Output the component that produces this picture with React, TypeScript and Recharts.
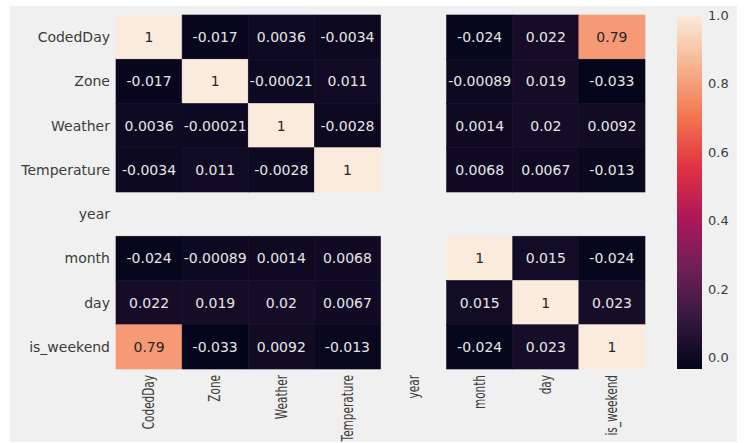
import React from "react";
import {
  ScatterChart,
  Scatter,
  XAxis,
  YAxis,
  ComposedChart,
  ReferenceArea,
} from "recharts";

const labels = ["CodedDay", "Zone", "Weather", "Temperature", "year", "month", "day", "is_weekend"];

// one row per variable, null = NaN (year is constant)
const codedDay = [1, -0.017, 0.0036, -0.0034, null, -0.024, 0.022, 0.79];
const zone = [-0.017, 1, -0.00021, 0.011, null, -0.00089, 0.019, -0.033];
const weather = [0.0036, -0.00021, 1, -0.0028, null, 0.0014, 0.02, 0.0092];
const temperature = [-0.0034, 0.011, -0.0028, 1, null, 0.0068, 0.0067, -0.013];
const year = [null, null, null, null, null, null, null, null];
const month = [-0.024, -0.00089, 0.0014, 0.0068, null, 1, 0.015, -0.024];
const day = [0.022, 0.019, 0.02, 0.0067, null, 0.015, 1, 0.023];
const isWeekend = [0.79, -0.033, 0.0092, -0.013, null, -0.024, 0.023, 1];

const rows = [codedDay, zone, weather, temperature, year, month, day, isWeekend];

const cbarTicks = [0, 0.2, 0.4, 0.6, 0.8, 1.0];

const vmin = -0.033;
const vmax = 1;

// rocket colormap anchors
const rocket: [number, string][] = [
  [0, "#03051a"],
  [1 / 7, "#35193e"],
  [2 / 7, "#701f57"],
  [3 / 7, "#ad1759"],
  [4 / 7, "#e13342"],
  [5 / 7, "#f37651"],
  [6 / 7, "#f6b48f"],
  [1, "#faebdd"],
];

function hex(c: string) {
  return [1, 3, 5].map((i) => parseInt(c.slice(i, i + 2), 16));
}

function rocketColor(v: number) {
  const t = Math.max(0, Math.min(1, (v - vmin) / (vmax - vmin)));
  for (let i = 1; i < rocket.length; i++) {
    const [p1, c1] = rocket[i];
    const [p0, c0] = rocket[i - 1];
    if (t <= p1) {
      const f = (t - p0) / (p1 - p0);
      const a = hex(c0);
      const b = hex(c1);
      const m = a.map((x, k) => Math.round(x + (b[k] - x) * f));
      return `rgb(${m[0]},${m[1]},${m[2]})`;
    }
  }
  return rocket[rocket.length - 1][1];
}

const W = 745;
const H = 443;
const LEFT = 116;
const RIGHT = 100;
const TOP = 15;
const BOTTOM = 74;
const cellW = (W - LEFT - RIGHT) / labels.length;
const cellH = (H - TOP - BOTTOM) / labels.length;

const cells = rows.flatMap((row, r) =>
  row
    .map((v, c) => ({ x: c + 0.5, y: r + 0.5, v }))
    .filter((d) => d.v !== null)
);

const font = "'DejaVu Sans', sans-serif";

const HeatCell = (props: any) => {
  const { cx, cy, payload } = props;
  const v = payload.v as number;
  const light = (v - vmin) / (vmax - vmin) > 0.6;
  const color = rocketColor(v);
  return (
    <g>
      <rect
        x={cx - cellW / 2}
        y={cy - cellH / 2}
        width={cellW}
        height={cellH}
        fill={color}
        stroke={color}
        strokeWidth={0.6}
      />
      <text
        x={cx}
        y={cy}
        textAnchor="middle"
        dominantBaseline="central"
        fontSize={14}
        fontFamily={font}
        fill={light ? "#262626" : "#e6e6e6"}
      >
        {Number(v.toPrecision(2)).toString()}
      </text>
    </g>
  );
};

const YTick = (props: any) => {
  const { x, y, payload } = props;
  return (
    <text x={x} y={y} textAnchor="end" dominantBaseline="central" fontSize={14} fontFamily={font} fill="#3c3c3c">
      {labels[Math.floor(payload.value)]}
    </text>
  );
};

// x labels in the reference are squeezed along the text direction
const XTick = (props: any) => {
  const { x, y, payload } = props;
  return (
    <text
      x={0}
      y={0}
      transform={`translate(${x} ${y - 2}) rotate(-90) scale(0.7 1)`}
      textAnchor="end"
      dominantBaseline="central"
      fontSize={15}
      fontFamily={font}
      fill="#3c3c3c"
    >
      {labels[Math.floor(payload.value)]}
    </text>
  );
};

const centers = labels.map((_, i) => i + 0.5);
const cbarData = [
  { x: 0, y: vmin },
  { x: 1, y: vmax },
];

export default function App() {
  return (
    <div style={{ position: "absolute", left: 0, top: 0, width: W, height: H, background: "#fff" }}>
      <div style={{ position: "absolute", left: 10, top: 6, width: 727, height: 436, background: "#f0f0f0" }} />
      <div style={{ position: "absolute", left: 0, top: 0 }}>
        <ScatterChart width={W} height={H} margin={{ top: TOP, right: RIGHT, bottom: 0, left: 0 }}>
          <XAxis
            type="number"
            dataKey="x"
            domain={[0, labels.length]}
            ticks={centers}
            interval={0}
            height={BOTTOM}
            axisLine={false}
            tickLine={false}
            tickSize={4}
            tickMargin={4}
            tick={<XTick />}
          />
          <YAxis
            type="number"
            dataKey="y"
            domain={[0, labels.length]}
            reversed
            ticks={centers}
            interval={0}
            width={LEFT}
            axisLine={false}
            tickLine={false}
            tickSize={4}
            tickMargin={2}
            tick={<YTick />}
          />
          <Scatter data={cells} shape={<HeatCell />} isAnimationActive={false} />
        </ScatterChart>
      </div>
      <div style={{ position: "absolute", left: 0, top: 0 }}>
        <ComposedChart
          width={W}
          height={H}
          data={cbarData}
          margin={{ top: TOP, right: 0, bottom: BOTTOM, left: 677 }}
        >
          <defs>
            <linearGradient id="rocketGrad" x1="0" y1="1" x2="0" y2="0">
              {rocket.map(([p, c]) => (
                <stop key={p} offset={p} stopColor={c} />
              ))}
            </linearGradient>
          </defs>
          <XAxis type="number" dataKey="x" domain={[0, 1]} hide />
          <YAxis
            type="number"
            dataKey="y"
            orientation="right"
            domain={[vmin, vmax]}
            ticks={cbarTicks}
            interval={0}
            width={43}
            axisLine={false}
            tickLine={false}
            tickSize={3}
            tickMargin={3}
            tickFormatter={(v: number) => v.toFixed(1)}
            tick={{ fontSize: 13, fontFamily: font, fill: "#3c3c3c" }}
          />
          <ReferenceArea x1={0} x2={1} y1={vmin} y2={vmax} fill="url(#rocketGrad)" fillOpacity={1} stroke="none" />
        </ComposedChart>
      </div>
    </div>
  );
}
